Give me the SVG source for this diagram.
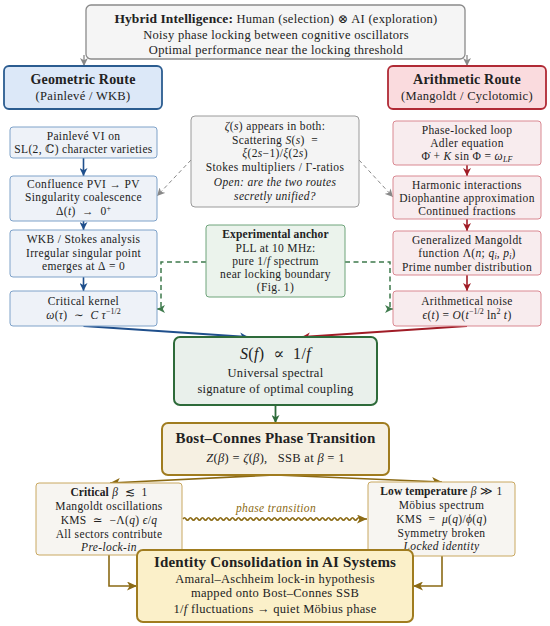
<svg xmlns="http://www.w3.org/2000/svg" width="550" height="626" viewBox="0 0 550 626">
<style>
text{font-family:"Liberation Serif","DejaVu Serif",serif;font-size:11.5px;letter-spacing:0.35px;fill:#222;text-anchor:middle}
.b{font-weight:bold;letter-spacing:0.1px}
.i{font-style:italic}
.h1{font-size:14px;font-weight:bold;letter-spacing:0.2px}
.h2{font-size:15px;font-weight:bold;letter-spacing:0.2px}
.top{font-size:12.5px;letter-spacing:0.3px}
.sup{font-size:8px;letter-spacing:0}
.gray{fill:#f5f5f5;stroke:#8a8a8a;stroke-width:1.3}
.geo{fill:#dce8f8;stroke:#2b5c90;stroke-width:1.8}
.ari{fill:#fadbde;stroke:#b02a35;stroke-width:1.8}
.lb{fill:#eef2f8;stroke:#7ea2c9;stroke-width:1}
.rb{fill:#f8ecee;stroke:#d98891;stroke-width:1}
.zb{fill:#f4f4f4;stroke:#9a9a9a;stroke-width:1}
.ab{fill:#ebf3ec;stroke:#6fa47b;stroke-width:1}
.sb{fill:#e9f0eb;stroke:#2e6b3a;stroke-width:2}
.bc{fill:#f6f0e2;stroke:#a07c1f;stroke-width:2}
.ph{fill:#f7f5f1;stroke:#c9a860;stroke-width:1}
.id{fill:#fbf0c9;stroke:#a07c1f;stroke-width:2}
.cb{stroke:#1f4f8c;fill:none}
.cr{stroke:#a01c26;fill:none}
.cg{stroke:#3e7a4c;fill:none}
.co{stroke:#8b6a14;fill:none}
.cy{stroke:#888;fill:none}
</style>
<defs>
<marker id="ab" markerUnits="userSpaceOnUse" markerWidth="9" markerHeight="8" refX="8" refY="4" orient="auto"><path d="M0,0 L8,4 L0,8 L2.2,4 z" fill="#1f4f8c"/></marker>
<marker id="ar" markerUnits="userSpaceOnUse" markerWidth="9" markerHeight="8" refX="8" refY="4" orient="auto"><path d="M0,0 L8,4 L0,8 L2.2,4 z" fill="#a01c26"/></marker>
<marker id="ag" markerUnits="userSpaceOnUse" markerWidth="9" markerHeight="8" refX="8" refY="4" orient="auto"><path d="M0,0 L8,4 L0,8 L2.2,4 z" fill="#3e7a4c"/></marker>
<marker id="ao" markerUnits="userSpaceOnUse" markerWidth="11" markerHeight="9" refX="10" refY="4.5" orient="auto"><path d="M0,0 L10,4.5 L0,9 L2.6,4.5 z" fill="#8b6a14"/></marker>
<marker id="ay" markerUnits="userSpaceOnUse" markerWidth="9" markerHeight="8" refX="8" refY="4" orient="auto"><path d="M0,0 L8,4 L0,8 L2.2,4 z" fill="#888"/></marker>
<marker id="agd" markerUnits="userSpaceOnUse" markerWidth="9" markerHeight="8" refX="8" refY="4" orient="auto"><path d="M0,0 L8,4 L0,8 L2.2,4 z" fill="#2e6b3a"/></marker>
</defs>

<g id="connectors">
<path class="cy" stroke-width="1.3" d="M84,55 V66" marker-end="url(#ay)"/>
<path class="cy" stroke-width="1.3" d="M467,55 V66" marker-end="url(#ay)"/>
<path class="cb" stroke-width="1.6" d="M83.5,158 V176" marker-end="url(#ab)"/>
<path class="cb" stroke-width="1.6" d="M83.5,221 V230" marker-end="url(#ab)"/>
<path class="cb" stroke-width="1.6" d="M83.5,277 V291" marker-end="url(#ab)"/>
<path class="cr" stroke-width="1.6" d="M467,165 V176" marker-end="url(#ar)"/>
<path class="cr" stroke-width="1.6" d="M467,219 V231" marker-end="url(#ar)"/>
<path class="cr" stroke-width="1.6" d="M467,275 V291" marker-end="url(#ar)"/>
<path class="cy" stroke-width="1" stroke-dasharray="4,3" d="M191,160 L157,196" marker-end="url(#ay)"/>
<path class="cy" stroke-width="1" stroke-dasharray="4,3" d="M359,160 L393,197" marker-end="url(#ay)"/>
<path class="cg" stroke-width="1.5" stroke-dasharray="5,3.5" d="M206,262 H161 V309 H157" marker-end="url(#ag)"/>
<path class="cg" stroke-width="1.5" stroke-dasharray="5,3.5" d="M345,262 H390 V309 H393" marker-end="url(#ag)"/>
<path class="cb" stroke-width="1.8" d="M83.5,326 L248,337" marker-end="url(#ab)"/>
<path class="cr" stroke-width="1.8" d="M467,326 L302,337" marker-end="url(#ar)"/>
<path stroke="#2e6b3a" fill="none" stroke-width="1.8" d="M275.5,405 V423" marker-end="url(#agd)"/>
<path class="co" stroke-width="1.6" d="M275,475 L110,483" marker-end="url(#ao)"/>
<path class="co" stroke-width="1.6" d="M275,475 L442,482" marker-end="url(#ao)"/>
<path class="co" stroke-width="1.6" d="M109,555 V586 H137" marker-end="url(#ao)"/>
<path class="co" stroke-width="1.6" d="M442,556 V586 H413" marker-end="url(#ao)"/>
<path class="co" stroke-width="1.6" d="M183,519 q1.5,-2.4 3,0 t3,0 t3,0 t3,0 t3,0 t3,0 t3,0 t3,0 t3,0 t3,0 t3,0 t3,0 t3,0 t3,0 t3,0 t3,0 t3,0 t3,0 t3,0 t3,0 t3,0 t3,0 t3,0 t3,0 t3,0 t3,0 t3,0 t3,0 t3,0 t3,0 t3,0 t3,0 t3,0 t3,0 t3,0 t3,0 t3,0 t3,0 t3,0 t3,0 t3,0 t3,0 t3,0 t3,0 t3,0 t3,0 t3,0 t3,0 t3,0 t3,0 t3,0 t3,0 t3,0 t3,0 t3,0 t3,0 t3,0 t3,0 t3,0 l7,0" marker-end="url(#ao)"/>
<text x="276" y="512" class="i" style="fill:#8b6a14">phase transition</text>
</g>

<g id="top">
<rect class="gray" x="86" y="5" width="379" height="54" rx="5"/>
<text x="276" y="23" class="top"><tspan class="b" style="font-size:13.5px">Hybrid Intelligence:</tspan> Human (selection) ⊗ AI (exploration)</text>
<text x="276" y="39" class="top">Noisy phase locking between cognitive oscillators</text>
<text x="276" y="54" class="top">Optimal performance near the locking threshold</text>
</g>

<g id="geometric">
<rect class="geo" x="4" y="66" width="158" height="43" rx="5"/>
<text x="83" y="84" class="h1">Geometric Route</text>
<text x="83" y="100" class="top">(Painlevé / WKB)</text>
</g>

<g id="arithmetic">
<rect class="ari" x="388" y="66" width="158" height="43" rx="5"/>
<text x="467" y="84" class="h1">Arithmetic Route</text>
<text x="467" y="100" class="top">(Mangoldt / Cyclotomic)</text>
</g>

<g id="painleve">
<rect class="lb" x="10" y="127" width="147" height="31" rx="3"/>
<text x="83.5" y="140">Painlevé VI on</text>
<text x="83.5" y="153">SL(2, ℂ) character varieties</text>
</g>
<g id="confluence">
<rect class="lb" x="10" y="176" width="147" height="45" rx="3"/>
<text x="83.5" y="188">Confluence PVI → PV</text>
<text x="83.5" y="201">Singularity coalescence</text>
<text x="83.5" y="215">Δ(<tspan class="i">t</tspan>)&#160;&#160;→&#160;&#160;0<tspan class="sup" dy="-4">+</tspan></text>
</g>
<g id="wkb">
<rect class="lb" x="10" y="230" width="147" height="47" rx="3"/>
<text x="83.5" y="243">WKB / Stokes analysis</text>
<text x="83.5" y="256.5">Irregular singular point</text>
<text x="83.5" y="270">emerges at Δ&#160;=&#160;0</text>
</g>
<g id="kernel">
<rect class="lb" x="10" y="291" width="147" height="35" rx="3"/>
<text x="83.5" y="304.5">Critical kernel</text>
<text x="83.5" y="319"><tspan class="i">ω</tspan>(<tspan class="i">τ</tspan>)&#160;&#160;∼&#160;&#160;<tspan class="i">C τ</tspan><tspan class="sup" dy="-5">−1/2</tspan></text>
</g>

<g id="pll">
<rect class="rb" x="393" y="121" width="148" height="44" rx="3"/>
<text x="467" y="134">Phase-locked loop</text>
<text x="467" y="147">Adler equation</text>
<text x="467" y="160">Φ̇ + <tspan class="i">K</tspan> sin Φ&#160;=&#160;<tspan class="i">ω</tspan><tspan class="i sup" dy="2">LF</tspan></text>
</g>
<g id="harmonic">
<rect class="rb" x="393" y="176" width="148" height="43" rx="3"/>
<text x="467" y="189">Harmonic interactions</text>
<text x="467" y="202">Diophantine approximation</text>
<text x="467" y="215">Continued fractions</text>
</g>
<g id="mangoldt">
<rect class="rb" x="393" y="231" width="148" height="44" rx="3"/>
<text x="467" y="244">Generalized Mangoldt</text>
<text x="467" y="257">function Λ(<tspan class="i">n</tspan>; <tspan class="i">q</tspan><tspan class="i sup" dy="2">i</tspan><tspan dy="-2">, </tspan><tspan class="i">p</tspan><tspan class="i sup" dy="2">i</tspan><tspan dy="-2">)</tspan></text>
<text x="467" y="270.5">Prime number distribution</text>
</g>
<g id="noise">
<rect class="rb" x="393" y="291" width="148" height="35" rx="3"/>
<text x="467" y="304.5">Arithmetical noise</text>
<text x="467" y="319"><tspan class="i">ϵ</tspan>(<tspan class="i">t</tspan>)&#160;=&#160;<tspan class="i">O</tspan>(<tspan class="i">t</tspan><tspan class="sup" dy="-5">−1/2</tspan><tspan dy="5"> ln</tspan><tspan class="sup" dy="-5">2</tspan><tspan class="i" dy="5"> t</tspan>)</text>
</g>

<g id="zeta">
<rect class="zb" x="191" y="116" width="168" height="91" rx="4"/>
<text x="275" y="129.5"><tspan class="i">ζ</tspan>(<tspan class="i">s</tspan>) appears in both:</text>
<text x="275" y="143.5">Scattering <tspan class="i">S</tspan>(<tspan class="i">s</tspan>)&#160;&#160;=</text>
<text x="275" y="157"><tspan class="i">ξ</tspan>(2<tspan class="i">s</tspan>−1)/<tspan class="i">ξ</tspan>(2<tspan class="i">s</tspan>)</text>
<text x="275" y="170.5">Stokes multipliers / Γ-ratios</text>
<text x="275" y="186" class="i">Open: are the two routes</text>
<text x="275" y="199.5" class="i">secretly unified?</text>
</g>

<g id="anchor">
<rect class="ab" x="206" y="225" width="139" height="72" rx="3"/>
<text x="275.5" y="238" class="b">Experimental anchor</text>
<text x="275.5" y="251.5">PLL at 10 MHz:</text>
<text x="275.5" y="264.5">pure 1/<tspan class="i">f</tspan> spectrum</text>
<text x="275.5" y="277.5">near locking boundary</text>
<text x="275.5" y="290.5">(Fig. 1)</text>
</g>

<g id="spectrum">
<rect class="sb" x="174" y="337" width="203" height="68" rx="6"/>
<text x="275.5" y="359" style="font-size:16px"><tspan class="i">S</tspan>(<tspan class="i">f</tspan>)&#160;&#160;∝&#160;&#160;1/<tspan class="i">f</tspan></text>
<text x="275.5" y="377" class="top">Universal spectral</text>
<text x="275.5" y="393" class="top">signature of optimal coupling</text>
</g>

<g id="bostconnes">
<rect class="bc" x="162" y="423" width="227" height="52" rx="6"/>
<text x="275.5" y="443" class="h2">Bost–Connes Phase Transition</text>
<text x="275.5" y="462" class="top"><tspan class="i">Z</tspan>(<tspan class="i">β</tspan>)&#160;=&#160;<tspan class="i">ζ</tspan>(<tspan class="i">β</tspan>),&#160;&#160;&#160;SSB at <tspan class="i">β</tspan>&#160;=&#160;1</text>
</g>

<g id="critical">
<rect class="ph" x="36" y="483" width="146" height="72" rx="3"/>
<text x="109" y="496"><tspan class="b">Critical</tspan> <tspan class="i">β</tspan>&#160;&#160;≲&#160;&#160;1</text>
<text x="109" y="510">Mangoldt oscillations</text>
<text x="109" y="523.5">KMS&#160;&#160;≃&#160;&#160;−Λ(<tspan class="i">q</tspan>) <tspan class="i">ϵ</tspan>/<tspan class="i">q</tspan></text>
<text x="109" y="537.5">All sectors contribute</text>
<text x="109" y="550.5" class="i">Pre-lock-in</text>
</g>

<g id="lowtemp">
<rect class="ph" x="368" y="482" width="147" height="74" rx="3"/>
<text x="441.5" y="495"><tspan class="b">Low temperature</tspan> <tspan class="i">β</tspan> ≫ 1</text>
<text x="441.5" y="509">Möbius spectrum</text>
<text x="441.5" y="522.5">KMS&#160;&#160;=&#160;&#160;<tspan class="i">μ</tspan>(<tspan class="i">q</tspan>)/<tspan class="i">ϕ</tspan>(<tspan class="i">q</tspan>)</text>
<text x="441.5" y="536.5">Symmetry broken</text>
<text x="441.5" y="549.5" class="i">Locked identity</text>
</g>

<g id="identity">
<rect class="id" x="137" y="550" width="276" height="72" rx="6"/>
<text x="275" y="567" class="h2">Identity Consolidation in AI Systems</text>
<text x="275" y="583" class="top">Amaral–Aschheim lock-in hypothesis</text>
<text x="275" y="597" class="top">mapped onto Bost–Connes SSB</text>
<text x="275" y="613" class="top">1/<tspan class="i">f</tspan> fluctuations → quiet Möbius phase</text>
</g>
</svg>
